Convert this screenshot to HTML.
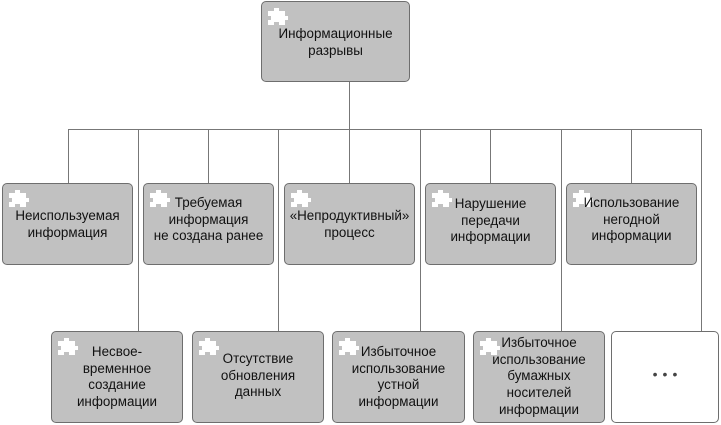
<!DOCTYPE html>
<html><head><meta charset="utf-8"><style>
body{margin:0;width:721px;height:425px;background:#fff;position:relative;overflow:hidden;font-family:"Liberation Sans","DejaVu Sans",sans-serif;}
.b{position:absolute;background:#c1c1c1;border:1px solid #6e6e6e;border-radius:5px;box-sizing:border-box;}
.w{background:#fff;}
.t{position:absolute;left:-4px;right:-4px;text-align:center;font-size:13.4px;line-height:16.7px;color:#111;}
.l{position:absolute;background:#777;}
svg.p{position:absolute;left:6px;top:6px;}
</style></head><body>
<div class="l" style="left:349px;top:82px;width:1px;height:48px"></div>
<div class="l" style="left:68px;top:129px;width:633px;height:1px"></div>
<div class="l" style="left:68px;top:129px;width:1px;height:54px"></div>
<div class="l" style="left:208px;top:129px;width:1px;height:54px"></div>
<div class="l" style="left:349px;top:129px;width:1px;height:54px"></div>
<div class="l" style="left:490px;top:129px;width:1px;height:54px"></div>
<div class="l" style="left:631px;top:129px;width:1px;height:54px"></div>
<div class="l" style="left:138px;top:129px;width:1px;height:202px"></div>
<div class="l" style="left:278px;top:129px;width:1px;height:202px"></div>
<div class="l" style="left:420px;top:129px;width:1px;height:202px"></div>
<div class="l" style="left:561px;top:129px;width:1px;height:202px"></div>
<div class="l" style="left:701px;top:129px;width:1px;height:202px"></div>

<svg width="0" height="0" style="position:absolute"><defs><g id="pz" fill="#fff"><path d="M0 3h6v-3h5v3h6v5h3v4h-3v5h-6v-3h-5v3h-6v-5h3v-4h-3z"/></g></defs></svg>

<div class="b" style="left:261px;top:1px;width:149px;height:81px"><svg class="p" width="22" height="18"><use href="#pz"/></svg><div class="t" style="top:24px">Информационные<br>разрывы</div></div>

<div class="b" style="left:2px;top:183px;width:131px;height:82px"><svg class="p" width="22" height="18"><use href="#pz"/></svg><div class="t" style="top:24px">Неиспользуемая<br>информация</div></div>
<div class="b" style="left:143px;top:183px;width:131px;height:82px"><svg class="p" width="22" height="18"><use href="#pz"/></svg><div class="t" style="top:11px">Требуемая<br>информация<br>не создана ранее</div></div>
<div class="b" style="left:284px;top:183px;width:131px;height:82px"><svg class="p" width="22" height="18"><use href="#pz"/></svg><div class="t" style="top:24px">«Непродуктивный»<br>процесс</div></div>
<div class="b" style="left:425px;top:183px;width:131px;height:82px"><svg class="p" width="22" height="18"><use href="#pz"/></svg><div class="t" style="top:12px">Нарушение<br>передачи<br>информации</div></div>
<div class="b" style="left:566px;top:183px;width:131px;height:82px"><svg class="p" width="22" height="18"><use href="#pz"/></svg><div class="t" style="top:11px">Использование<br>негодной<br>информации</div></div>

<div class="b" style="left:51px;top:331px;width:132px;height:92px"><svg class="p" width="22" height="18"><use href="#pz"/></svg><div class="t" style="top:12px">Несвое-<br>временное<br>создание<br>информации</div></div>
<div class="b" style="left:192px;top:331px;width:132px;height:92px"><svg class="p" width="22" height="18"><use href="#pz"/></svg><div class="t" style="top:19px">Отсутствие<br>обновления<br>данных</div></div>
<div class="b" style="left:332px;top:331px;width:133px;height:92px"><svg class="p" width="22" height="18"><use href="#pz"/></svg><div class="t" style="top:12px">Избыточное<br>использование<br>устной<br>информации</div></div>
<div class="b" style="left:473px;top:331px;width:132px;height:92px"><svg class="p" width="22" height="18"><use href="#pz"/></svg><div class="t" style="top:3px">Избыточное<br>использование<br>бумажных<br>носителей<br>информации</div></div>
<div class="b w" style="left:611px;top:331px;width:108px;height:92px"><div class="t" style="top:34px;font-size:14px;letter-spacing:5px;color:#444;padding-left:5px">•••</div></div>
</body></html>
